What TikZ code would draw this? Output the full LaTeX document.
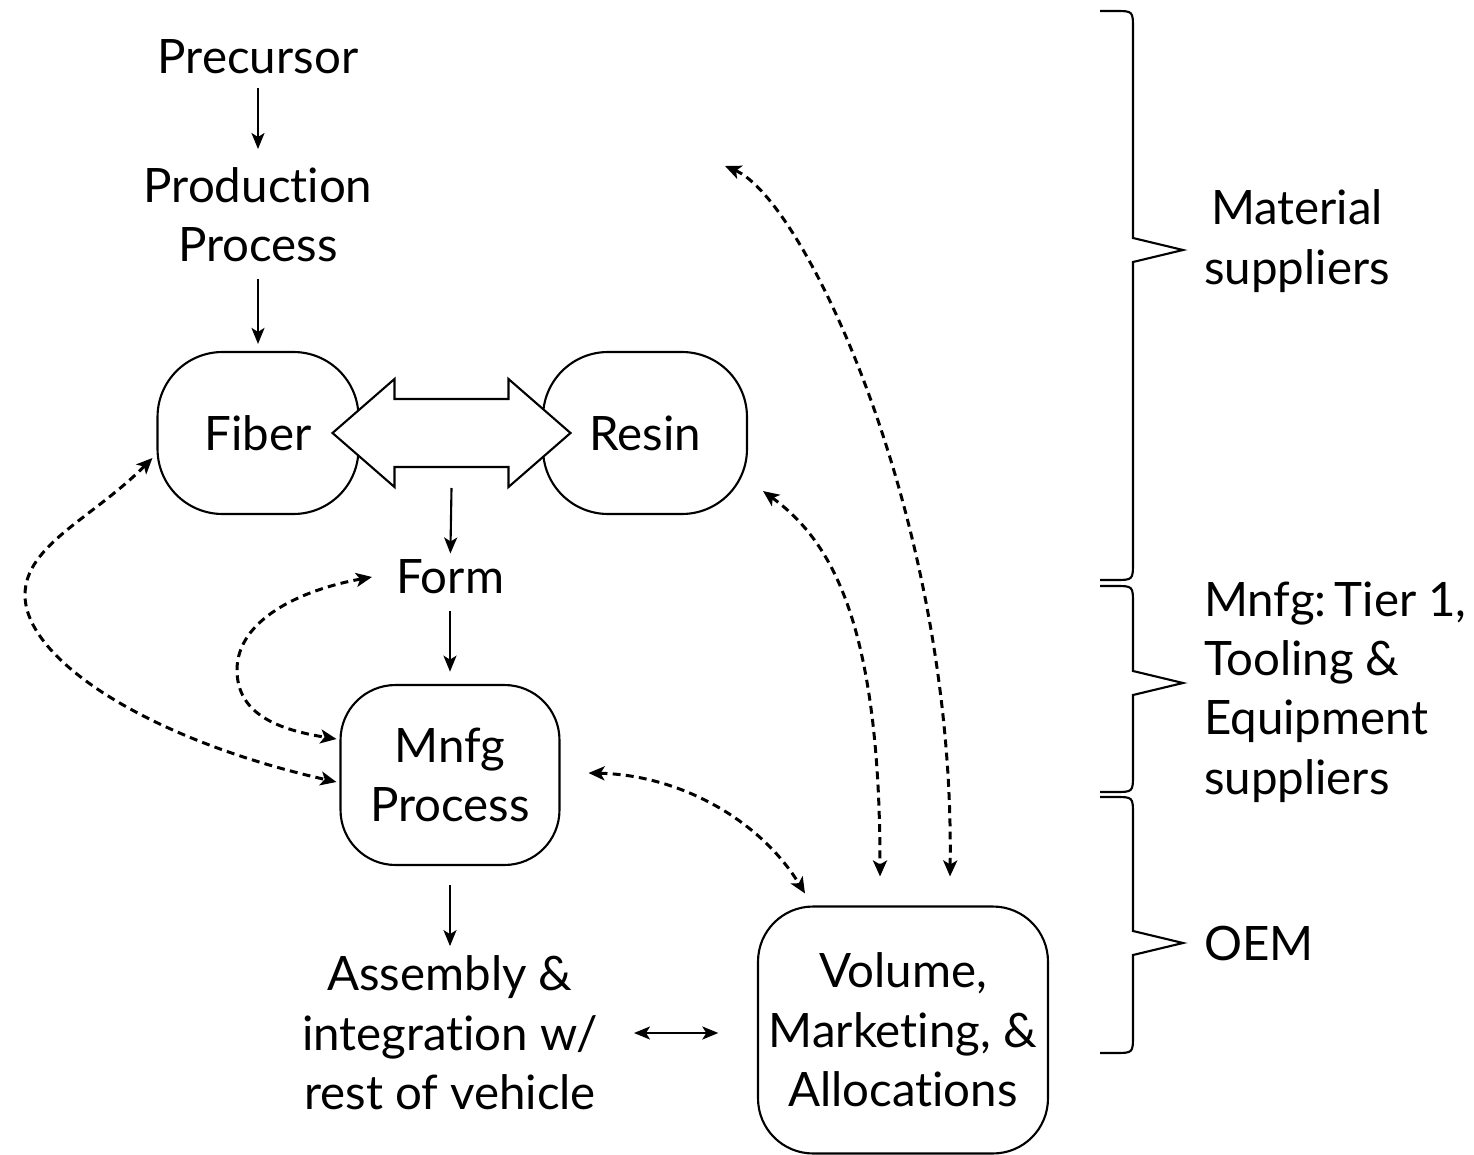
\documentclass[tikz,border=0pt]{standalone}
\usepackage{fontspec}
\setmainfont{Lato}[Ligatures=NoCommon]
\usetikzlibrary{arrows.meta, calc}
\tikzset{
  every picture/.style={line width=1.2pt},
  lbl/.style={align=center, inner sep=0pt, font=\fontsize{27}{33.8}\selectfont},
  blob/.style={lbl, draw, rounded corners=#1},
  blob/.default=1.1cm,
  flow/.style={-{Stealth[length=3.2mm, width=2.6mm, inset=0.8mm]}},
  link/.style={{Stealth[length=3.2mm, width=2.8mm, inset=0.8mm]}-{Stealth[length=3.2mm, width=2.8mm, inset=0.8mm]},
    line width=1.7pt, dash pattern=on 4.5pt off 3pt},
  fat/.style={draw, fill=white, line join=miter},
  brace/.style={draw, line join=miter},
}

\begin{document}
\begin{tikzpicture}[x=0.02cm, y=-0.02cm]
  \useasboundingbox (0,0) rectangle (1474,1155);

  % process chain
  \node[lbl] (precursor) at (258,57) {Precursor};
  \node[lbl] (prodproc) at (258,215) {Production\\Process};
  \node[blob=1.3cm, minimum width=4.02cm, minimum height=3.24cm] (fiber) at (258,433) {Fiber};
  \node[blob=1.3cm, minimum width=4.08cm, minimum height=3.24cm] (resin) at (645,433) {Resin};
  \node[lbl] (form) at (450,577) {Form};
  \node[blob, minimum width=4.38cm, minimum height=3.6cm] (mnfg) at (450,775) {Mnfg\\Process};
  \node[lbl] (assembly) at (450,1033) {Assembly \&\\integration w/\\rest of vehicle};
  \node[blob, minimum width=5.8cm, minimum height=4.94cm] (volume) at (903,1030) {Volume,\\Marketing, \&\\Allocations};

  % fat two-way arrow between fiber and resin
  \coordinate (hub) at ($(fiber)!0.5!(resin)$);
  \draw[fat] ($(hub)+(-119,0)$) -- ++(62,-54) -- ++(0,20) -- ++(114,0) -- ++(0,-20)
    -- ++(62,54) -- ++(-62,54) -- ++(0,-20) -- ++(-114,0) -- ++(0,20) -- cycle;

  \draw[flow, shorten <=7pt, shorten >=10pt] (precursor) -- (prodproc);
  \draw[flow, shorten <=9pt, shorten >=4pt] (prodproc) -- (fiber);
  \draw[flow, shorten >=3pt] ($(hub)+(0,55)$) -- (form);
  \draw[flow, shorten <=9pt, shorten >=7pt] (form) -- (mnfg);
  \draw[flow, shorten <=11pt, shorten >=5pt] (mnfg) -- (assembly);
  \draw[{Stealth[length=3.2mm, width=2.6mm, inset=0.8mm]}-{Stealth[length=3.2mm, width=2.6mm, inset=0.8mm]},
    shorten <=20pt, shorten >=22pt] (assembly) -- (volume.west |- assembly);

  % dashed feedback links
  \coordinate (supply) at (725,166);
  \draw[link] ($(fiber.west)+(-4,25)$) .. controls (93,518) and (25,545) .. (25,595)
    .. controls (25,660) and (150,740) .. ($(mnfg.west)+(-3,7)$);
  \draw[link] ($(form)+(-78,0)$) .. controls (300,590) and (237,620) .. (237,670)
    .. controls (237,715) and (280,730) .. ($(mnfg.west)+(-3,-36)$);
  \draw[link] ($(mnfg.east)+(28,-2)$) .. controls (680,775) and (760,820) .. ($(volume.north)+(-98,-12)$);
  \draw[link] ($(resin.south east)+(15,-24)$) .. controls (830,540) and (880,620) .. ($(volume.north)+(-23,-29)$);
  \draw[link] (supply) .. controls (805,200) and (955,520) .. ($(volume.north)+(47,-29)$);

  % supplier groups
  \foreach \ya/\yt/\yb in {11/250/580, 586/683/792, 797/943/1053}
    \draw[brace] (1100,\ya) -- (1115,\ya) .. controls (1133,\ya) .. (1133,{\ya+18})
      -- (1133,{\yt-12}) -- (1183,\yt) -- (1133,{\yt+12})
      -- (1133,{\yb-18}) .. controls (1133,\yb) .. (1115,\yb) -- (1100,\yb);
  \node[lbl] (matsup) at (1297,241) {Material\\suppliers};
  \node[lbl, anchor=west, align=left] (tier) at (1203,692) {Mnfg:\,Tier 1,\\Tooling \&\\Equipment\\suppliers};
  \node[lbl, anchor=west] (oem) at (1203,943) {OEM};
\end{tikzpicture}
\end{document}
